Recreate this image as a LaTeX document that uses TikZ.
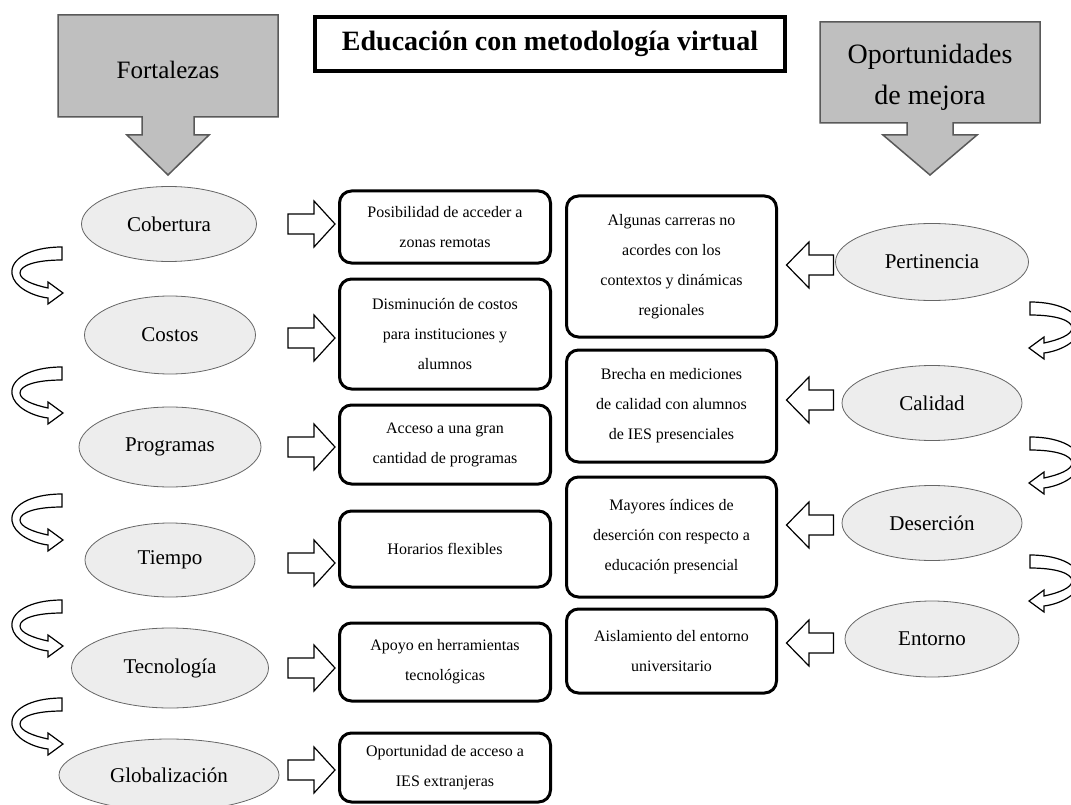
\documentclass[tikz,border=0pt]{standalone}
\usepackage{fontspec}
\setmainfont{Liberation Serif}
\usetikzlibrary{shapes.geometric}
\tikzset{
  ell/.style={ellipse, draw=black!60, line width=0.8pt, fill=black!7, inner sep=0pt,
              font=\fontsize{21}{25}\selectfont},
  txtbox/.style={draw=black, line width=3pt, rounded corners=12pt, inner sep=0pt,
                 align=center, font=\fontsize{16}{30}\selectfont},
  blockarrow/.style={draw=black, line width=1.2pt, fill=white, line join=miter},
  banner/.style={draw=black!65, line width=1.5pt, fill=black!25, line join=miter},
  rarr/.pic={\draw[blockarrow] (-23.5,-10) -- (2.5,-10) -- (2.5,-23) -- (23.5,0)
              -- (2.5,23) -- (2.5,10) -- (-23.5,10) -- cycle;},
  larr/.pic={\draw[blockarrow] (23.5,-10) -- (-1,-10) -- (-1,-23) -- (-23.5,0)
              -- (-1,23) -- (-1,10) -- (23.5,10) -- cycle;},
  curvl/.pic={\draw[blockarrow] (0,0) .. controls (-32,0) and (-52,12) .. (-50,27)
              .. controls (-48,40) and (-30,49) .. (-14,51) -- (-14,57) -- (1,46)
              -- (-14,35) -- (-14,41) .. controls (-28,38) and (-42,33) .. (-42,26)
              .. controls (-42,18) and (-25,13) .. (0,13) -- cycle;},
  curvr/.pic={\draw[blockarrow] (0,0) .. controls (32,0) and (52,12) .. (50,27)
              .. controls (48,40) and (30,49) .. (14,51) -- (14,57) -- (-1,46)
              -- (14,35) -- (14,41) .. controls (28,38) and (42,33) .. (42,26)
              .. controls (42,18) and (25,13) .. (0,13) -- cycle;}
}
\begin{document}
\begin{tikzpicture}[x=1pt,y=-1pt]
\useasboundingbox (0,0) rectangle (1071,805);

% banners
\draw[banner] (58,15) -- (278,15) -- (278,117) -- (194,117) -- (194,135) -- (209,135)
  -- (168,175) -- (127,135) -- (142,135) -- (142,117) -- (58,117) -- cycle;
\node[font=\fontsize{25}{30}\selectfont] (fort) at (168,70) {Fortalezas};

\draw[banner] (820,22) -- (1040,22) -- (1040,123) -- (953,123) -- (953,135) -- (977,135)
  -- (930,175) -- (883,135) -- (907,135) -- (907,123) -- (820,123) -- cycle;
\node[align=center, font=\fontsize{28}{41}\selectfont] (opor) at (930,77) {Oportunidades\\de mejora};

% title
\node[draw, line width=4pt, minimum width=470pt, minimum height=54pt, inner sep=0pt,
      font=\bfseries\fontsize{28}{32}\selectfont] (title) at (550,44)
      {Educación con metodología virtual};

% left ellipses
\node[ell, minimum width=175pt, minimum height=75pt] (cob) at (169,224) {Cobertura};
\node[ell, minimum width=171pt, minimum height=78pt] (cos) at (170,335) {Costos};
\node[ell, minimum width=182pt, minimum height=80pt] (pro) at (170,447) {Programas};
\node[ell, minimum width=170pt, minimum height=74pt] (tie) at (170,560) {Tiempo};
\node[ell, minimum width=197pt, minimum height=80pt] (tec) at (170,668) {Tecnología};
\node[ell, minimum width=220pt, minimum height=72pt] (glo) at (169,775) {Globalización};

% left boxes
\node[txtbox, minimum width=211pt, minimum height=72pt] (b1) at (445,227)
  {Posibilidad de acceder a\\zonas remotas};
\node[txtbox, minimum width=211pt, minimum height=110pt] (b2) at (445,334)
  {Disminución de costos\\para instituciones y\\alumnos};
\node[txtbox, minimum width=211pt, minimum height=79pt] (b3) at (445,444.5)
  {Acceso a una gran\\cantidad de programas};
\node[txtbox, minimum width=211pt, minimum height=76pt] (b4) at (445,549)
  {Horarios flexibles};
\node[txtbox, minimum width=211pt, minimum height=78pt] (b5) at (445,662)
  {Apoyo en herramientas\\tecnológicas};
\node[txtbox, minimum width=211pt, minimum height=69pt] (b6) at (445,767.5)
  {Oportunidad de acceso a\\IES extranjeras};

% right boxes
\node[txtbox, minimum width=210pt, minimum height=141pt] (r1) at (671.5,266.5)
  {Algunas carreras no\\acordes con los\\contextos y dinámicas\\regionales};
\node[txtbox, minimum width=210pt, minimum height=112pt] (r2) at (671.5,406)
  {Brecha en mediciones\\de calidad con alumnos\\de IES presenciales};
\node[txtbox, minimum width=210pt, minimum height=120pt] (r3) at (671.5,537)
  {Mayores índices de\\deserción con respecto a\\educación presencial};
\node[txtbox, minimum width=210pt, minimum height=84pt] (r4) at (671.5,651)
  {Aislamiento del entorno\\universitario};

% right ellipses
\node[ell, minimum width=193pt, minimum height=77pt] (per) at (932,262) {Pertinencia};
\node[ell, minimum width=180pt, minimum height=75pt] (cal) at (932,403) {Calidad};
\node[ell, minimum width=180pt, minimum height=75pt] (des) at (932,523) {Deserción};
\node[ell, minimum width=174pt, minimum height=76pt] (ent) at (932,639) {Entorno};

% block arrows left side (pointing right)
\pic at (311.5,224) {rarr};
\pic at (311.5,338) {rarr};
\pic at (311.5,447) {rarr};
\pic at (311.5,563) {rarr};
\pic at (311.5,668) {rarr};
\pic at (311.5,770) {rarr};

% block arrows right side (pointing left)
\pic at (810,265) {larr};
\pic at (810,400) {larr};
\pic at (810,525) {larr};
\pic at (810,643) {larr};

% curved arrows left
\pic at (62,247) {curvl};
\pic at (62,367) {curvl};
\pic at (62,494) {curvl};
\pic at (62,600) {curvl};
\pic at (62,698) {curvl};

% curved arrows right
\pic at (1030,302) {curvr};
\pic at (1030,437) {curvr};
\pic at (1030,555) {curvr};
\end{tikzpicture}
\end{document}
